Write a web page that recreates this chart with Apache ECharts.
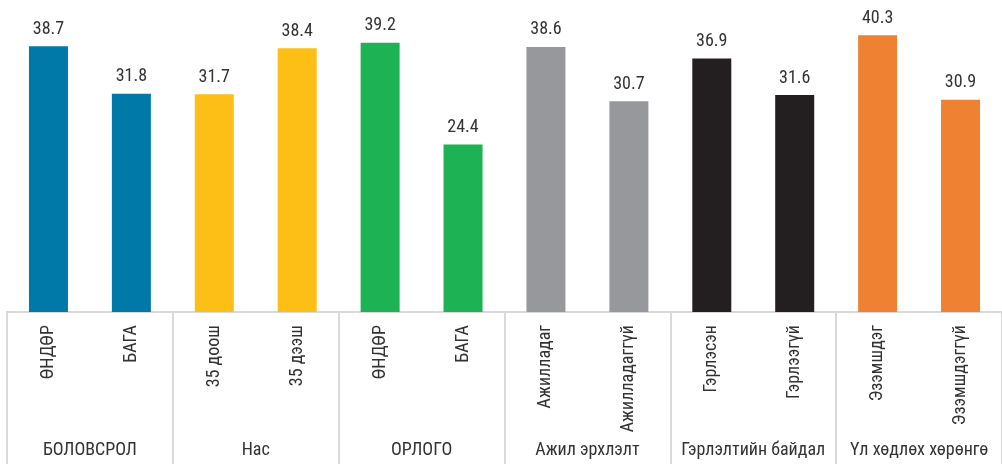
<!DOCTYPE html>
<html>
<head>
<meta charset="utf-8">
<script src="https://cdn.jsdelivr.net/npm/echarts@6/dist/echarts.min.js"></script>
<style>
  html, body { margin: 0; padding: 0; background: #fff; }
  #chart { width: 1002px; height: 464px; }
</style>
</head>
<body>
<div id="chart"></div>
<script>
// Bar labels (one per bar) and the values shown above each bar
const categories = ['ӨНДӨР', 'БАГА', '35 доош', '35 дээш', 'ӨНДӨР', 'БАГА',
  'Ажилладаг', 'Ажилладаггүй', 'Гэрлэсэн', 'Гэрлээгүй', 'Эзэмшдэг', 'Эзэмшдэггүй'];
const values = [38.7, 31.8, 31.7, 38.4, 39.2, 24.4, 38.6, 30.7, 36.9, 31.6, 40.3, 30.9];

// Group headings, each spanning two bars
const groups = ['БОЛОВСРОЛ', 'Нас', 'ОРЛОГО', 'Ажил эрхлэлт', 'Гэрлэлтийн байдал', 'Үл хөдлөх хөрөнгө'];

// One colour per group
const groupColors = ['#0078a8', '#fdbf16', '#1db254', '#97989b', '#231f20', '#ee8232'];

const FONT = "'Roboto Condensed','Liberation Sans Narrow','DejaVu Sans Condensed','Arial Narrow',sans-serif";
const TEXT = '#333333';
const LINE = '#d9d9d9';

const chart = echarts.init(document.getElementById('chart'), null, { renderer: 'canvas' });

chart.setOption({
  animation: false,
  textStyle: { fontFamily: FONT },
  grid: { left: 7, top: 3, width: 1002, bottom: 152, containLabel: false },
  xAxis: [
    {
      type: 'category',
      data: categories,
      position: 'bottom',
      axisLine: { show: true, lineStyle: { color: LINE, width: 2 } },
      axisTick: { show: false },
      axisLabel: {
        interval: 0,
        rotate: 90,
        margin: 13,
        fontSize: 18,
        color: TEXT,
        fontFamily: FONT
      }
    },
    {
      type: 'category',
      data: groups,
      position: 'bottom',
      boundaryGap: true,
      axisLine: { show: false },
      axisTick: {
        show: true,
        interval: 0,
        length: 152,
        lineStyle: { color: LINE, width: 2 }
      },
      axisLabel: {
        interval: 0,
        margin: 129,
        fontSize: 18,
        color: TEXT,
        fontFamily: FONT
      }
    }
  ],
  yAxis: {
    type: 'value',
    min: 0,
    max: 45,
    show: false,
    splitLine: { show: false }
  },
  series: [
    {
      type: 'bar',
      xAxisIndex: 0,
      barWidth: 39,
      data: values.map((v, i) => ({
        value: v,
        itemStyle: { color: groupColors[Math.floor(i / 2)] }
      })),
      label: {
        show: true,
        position: 'top',
        distance: 8,
        fontSize: 18,
        color: TEXT,
        fontFamily: FONT,
        formatter: p => p.value.toFixed(1)
      }
    }
  ]
});
</script>
</body>
</html>
